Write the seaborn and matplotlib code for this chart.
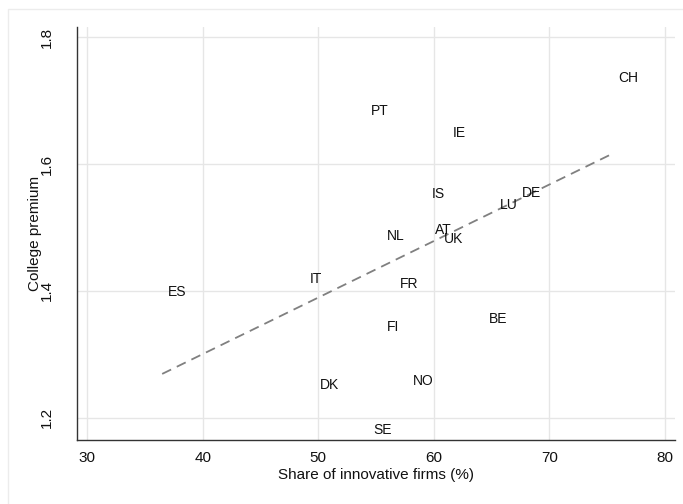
import matplotlib
matplotlib.use("Agg")
import matplotlib.pyplot as plt
import matplotlib.patches as mpatches
import seaborn as sns
import pandas as pd

# country codes, share of innovative firms (%), college premium
countries = ["ES", "IT", "DK", "PT", "IE", "IS", "NL", "AT", "UK",
             "FR", "LU", "DE", "FI", "BE", "NO", "SE", "CH"]
innov_share = [36.5, 48.8, 49.65, 54.1, 61.15, 59.35, 55.45, 59.6, 60.35,
               56.6, 65.2, 67.15, 55.45, 64.3, 57.75, 54.3, 75.45]
college_prem = [1.398, 1.419, 1.252, 1.683, 1.649, 1.553, 1.486, 1.496, 1.482,
                1.4105, 1.535, 1.554, 1.343, 1.3555, 1.258, 1.1806, 1.735]

xticks = [30, 40, 50, 60, 70, 80]
yticks = [1.2, 1.4, 1.6, 1.8]


def makePlot(df: pd.DataFrame):
    sns.set_style("white")
    plt.rcParams["font.family"] = ["Liberation Sans", "DejaVu Sans"]

    fig = plt.figure(figsize=(6.83, 5.04), dpi=100)
    ax = fig.add_axes([77 / 683, 64 / 504, 598 / 683, 413 / 504])

    # faint outer frame of the graph region
    fig.patches.append(mpatches.Rectangle((8 / 683, -0.1), 1.2, 0.1 + 495 / 504,
                                          transform=fig.transFigure, fill=False,
                                          edgecolor="#ececec", lw=1))

    sns.regplot(data=df, x="innov", y="prem", scatter=False, ci=None, ax=ax,
                line_kws=dict(color="#808080", lw=1.3, ls=(0, (5.5, 3.5))))

    for _, r in df.iterrows():
        ax.annotate(r["country"], (r["innov"], r["prem"]), xytext=(4, 0),
                    textcoords="offset points", ha="left", va="center",
                    fontsize=10, color="#111111")

    ax.set_xlim(29.13, 80.87)
    ax.set_ylim(1.165, 1.816)
    ax.set_xticks(xticks)
    ax.set_yticks(yticks)
    ax.set_yticklabels([f"{v:.1f}" for v in yticks], rotation=90, va="center")
    ax.grid(True, color="#e6e6e6", lw=1)
    ax.set_axisbelow(True)

    for s in ["top", "right"]:
        ax.spines[s].set_visible(False)
    for s in ["left", "bottom"]:
        ax.spines[s].set_color("#333333")
        ax.spines[s].set_linewidth(1)

    ax.tick_params(axis="both", direction="out", length=6, width=1,
                   color="#333333", labelsize=11, labelcolor="#111111", pad=2)
    ax.tick_params(axis="y", pad=11)
    ax.set_xlabel("Share of innovative firms (%)", fontsize=11, color="#111111", labelpad=2)
    ax.set_ylabel("College premium", fontsize=11, color="#111111")
    ax.yaxis.set_label_coords(-35 / 598, 0.5)

    fig.savefig("out.png", dpi=100)


def main():
    df = pd.DataFrame({"country": countries, "innov": innov_share, "prem": college_prem})
    makePlot(df)


if __name__ == "__main__":
    main()
